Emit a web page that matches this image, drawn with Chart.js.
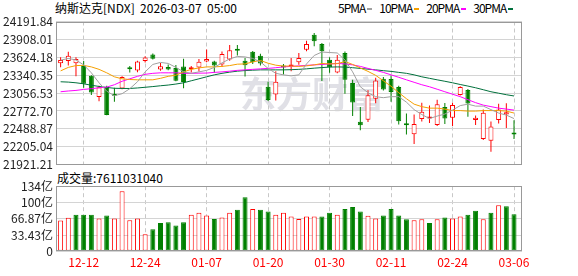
<!DOCTYPE html>
<html>
<head>
<meta charset="utf-8">
<script src="https://cdn.jsdelivr.net/npm/chart.js@4.4.1/dist/chart.umd.min.js"></script>
<style>
  body { margin: 0; width: 578px; height: 276px; background: #fff; position: relative; overflow: hidden;
         font-family: "Noto Sans CJK SC", "Noto Sans", sans-serif; font-size: 12px; color: #000; }
  .txt { position: absolute; white-space: nowrap; line-height: 12px; }
  #legend { left: 338px; top: 2px; letter-spacing: -1px; }
  #legend i { display: inline-block; width: 5px; height: 2px; vertical-align: 3px; margin: 0 7px 0 2px; }
  canvas { position: absolute; left: 0; }
</style>
</head>
<body>
<div class="txt" style="left:55px;top:2px">纳斯达克[NDX]&nbsp;&nbsp;2026-03-07&nbsp;&nbsp;05:00</div>
<div class="txt" id="legend">5PMA<i style="background:#a0a0a0"></i>10PMA<i style="background:#f5a000"></i>20PMA<i style="background:#ff00ff"></i>30PMA<i style="background:#00703c"></i></div>
<div class="txt" style="left:57px;top:172px">成交量:7611031040</div>
<canvas id="kline" width="578" height="176" style="top:0"></canvas>
<canvas id="vol" width="578" height="100" style="top:176px"></canvas>
<script>
const dates = ['12-09','12-10','12-11','12-12','12-15','12-16','12-17','12-18','12-19','12-22',
  '12-23','12-24','12-26','12-29','12-30','12-31','01-02','01-05','01-06','01-07',
  '01-08','01-09','01-12','01-13','01-14','01-15','01-16','01-20','01-21','01-22',
  '01-23','01-26','01-27','01-28','01-29','01-30','02-02','02-03','02-04','02-05',
  '02-06','02-09','02-10','02-11','02-12','02-13','02-17','02-18','02-19','02-20',
  '02-23','02-24','02-25','02-26','02-27','03-02','03-03','03-04','03-05','03-06'];

const open = [23530,23567,23530,23488,23330,22995,23152,23031,23130,23445,
  23414,23567,23669,23430,23472,23456,23480,23436,23464,23559,
  23559,23511,23590,23745,23571,23713,23650,23157,23036,23472,
  23477,23546,23745,23981,23834,23587,23385,23693,23217,22601,
  22634,22965,23283,23280,23154,22555,22404,22645,22653,22551,
  22837,22666,23028,23107,22629,22330,22299,22629,22716,22414];
const high = [23625,23713,23625,23567,23338,23173,23173,23141,23322,23488,
  23571,23641,23685,23535,23511,23504,23603,23488,23598,23748,
  23571,23716,23819,23819,23614,23724,23682,23236,23404,23519,
  23614,23693,23886,24008,23850,23625,23661,23716,23267,22837,
  23102,23299,23310,23335,23173,22732,22716,22905,22858,22952,
  22900,22905,23165,23121,22700,22795,22606,22889,22897,22626];
const low = [23467,23496,23322,23141,23026,22929,22705,22921,23118,23385,
  23389,23543,23590,23409,23417,23244,23133,23385,23401,23546,
  23378,23472,23571,23653,23319,23519,23496,22932,22941,23351,
  23404,23508,23719,23798,23247,23378,23373,23047,22692,22469,
  22598,22897,23099,22921,22559,22401,22251,22606,22582,22535,
  22566,22535,23018,22680,22551,22311,22125,22574,22503,22330];
const close = [23582,23650,23598,23204,23067,23149,22708,23015,23310,23436,
  23559,23622,23603,23483,23430,23252,23231,23445,23555,23598,
  23496,23677,23737,23730,23499,23546,23524,22948,23236,23461,
  23488,23614,23834,23877,23719,23467,23585,23267,22908,22546,
  23023,23255,23113,23075,22609,22546,22566,22759,22685,22881,
  22653,22866,23154,22892,22666,22744,22527,22798,22751,22401];

// 成交量, 亿
const volume = [63.2,69.0,75.3,75.3,75.3,67.6,73.4,67.6,123.6,63.8,
  67.6,34.8,45.1,58.0,59.9,52.8,59.9,75.3,79.2,73.4,
  66.3,69.6,79.2,85.6,110.8,86.9,85.6,81.8,75.3,79.2,
  71.5,66.3,71.5,71.5,71.5,79.2,75.3,86.9,90.8,81.8,
  72.8,67.6,73.4,86.9,73.4,65.7,63.8,65.7,58.0,65.7,
  69.6,67.6,71.5,75.3,83.1,65.7,79.2,94.7,92.7,76.11];

const ma5 = [23578,23606,23582,23504,23378,23220,23086,23015,23047,23126,
  23236,23393,23511,23543,23527,23464,23393,23370,23393,23417,
  23464,23535,23598,23637,23630,23606,23551,23448,23370,23346,
  23330,23346,23519,23653,23708,23700,23693,23582,23393,23157,
  23063,23000,22984,23000,23000,22913,22795,22716,22653,22692,
  22724,22787,22858,22881,22850,22850,22795,22740,22708,22653];
const ma10 = [23409,23464,23493,23496,23472,23433,23378,23315,23283,23272,
  23267,23267,23267,23291,23322,23341,23393,23433,23456,23472,
  23472,23480,23493,23515,23519,23551,23574,23530,23499,23485,
  23485,23480,23488,23504,23526,23519,23524,23556,23511,23456,
  23401,23338,23252,23165,23063,22968,22881,22842,22818,22818,
  22803,22779,22779,22771,22771,22779,22779,22779,22771,22740];
const ma20 = [23078,23090,23099,23115,23126,23141,23152,23189,23244,23283,
  23322,23354,23370,23378,23378,23378,23370,23370,23373,23374,
  23385,23393,23404,23417,23425,23433,23441,23448,23459,23472,
  23480,23488,23496,23504,23511,23519,23527,23519,23504,23480,
  23448,23417,23385,23346,23307,23267,23228,23189,23157,23118,
  23078,23039,23000,22952,22905,22866,22842,22818,22803,22787];
const ma30 = [23236,23231,23220,23204,23181,23162,23146,23133,23130,23130,
  23138,23149,23160,23173,23184,23200,23220,23252,23283,23315,
  23346,23370,23389,23404,23414,23420,23425,23425,23425,23425,
  23428,23433,23441,23452,23461,23469,23472,23469,23459,23448,
  23436,23425,23412,23401,23385,23370,23346,23315,23291,23267,
  23244,23220,23193,23168,23141,23110,23078,23055,23031,23011];

const priceTicks = [21921.21,22205.04,22488.87,22772.70,23056.53,23340.35,23624.18,23908.01,24191.84];
const volTicks = [0, 33.435, 66.87, 100.305, 133.74];
const volLabels = ['0', '33.43亿', '66.87亿', '100亿', '134亿'];
const dateTicks = ['12-12','12-24','01-07','01-20','01-30','02-11','02-24','03-06'];

const RED = '#ff0000';
const GREEN = '#008000';
const FONT = { family: '"Noto Sans CJK SC", "Noto Sans", sans-serif', size: 12 };

const idx = dates.map((d, i) => i);
const up = idx.map(i => close[i] >= open[i]);
const volUp = idx.map(i => i === 0 ? close[i] >= open[i] : close[i] >= close[i - 1]);

const frame = {
  id: 'frame',
  beforeDraw(chart, args, opts) {
    if (!opts.mark) return;
    const ctx = chart.ctx;
    ctx.save();
    ctx.fillStyle = '#e0e0e6';
    ctx.font = 'bold 36px "Noto Sans CJK SC"';
    ctx.textBaseline = 'alphabetic';
    ctx.fillText('东方财富', 240, 108);
    ctx.restore();
  },
  afterDraw(chart) {
    const { ctx, chartArea: a } = chart;
    ctx.save();
    ctx.strokeStyle = '#999';
    ctx.lineWidth = 1;
    ctx.strokeRect(Math.round(a.left) + 0.5, Math.round(a.top) + 0.5,
      Math.round(a.right - a.left) - 1, Math.round(a.bottom - a.top) - 1);
    ctx.restore();
  }
};

function xAxis(showLabels) {
  return {
    type: 'linear',
    min: -0.6,
    max: 60.04,
    offset: false,
    afterBuildTicks: scale => { scale.ticks = dateTicks.map(d => ({ value: dates.indexOf(d) })); },
    ticks: {
      display: showLabels,
      autoSkip: false,
      maxRotation: 0,
      color: RED,
      font: FONT,
      padding: 4,
      callback: v => dates[v]
    },
    grid: { color: '#c8c8c8', drawTicks: false, offset: false },
    border: { display: false, dash: [4, 3] }
  };
}

function maLine(label, values, color) {
  return {
    type: 'line',
    label: label,
    data: idx.map(i => ({ x: i, y: values[i] })),
    borderColor: color,
    borderWidth: 1,
    pointRadius: 0,
    tension: 0,
    order: 0
  };
}

new Chart(document.getElementById('kline'), {
  type: 'bar',
  data: {
    datasets: [
      maLine('5PMA', ma5, '#a0a0a0'),
      maLine('10PMA', ma10, '#f5a000'),
      maLine('20PMA', ma20, '#ff00ff'),
      maLine('30PMA', ma30, '#00703c'),
      {
        label: 'body',
        data: idx.map(i => ({ x: i, y: [open[i], close[i]] })),
        backgroundColor: idx.map(i => up[i] ? '#ffffff' : GREEN),
        borderColor: idx.map(i => up[i] ? RED : GREEN),
        borderWidth: 1,
        borderSkipped: false,
        barThickness: 5,
        minBarLength: 2,
        inflateAmount: 0,
        grouped: false,
        order: 1
      },
      {
        label: 'wick',
        data: idx.map(i => ({ x: i, y: [low[i], high[i]] })),
        backgroundColor: idx.map(i => up[i] ? RED : GREEN),
        barThickness: 1,
        inflateAmount: 0,
        grouped: false,
        order: 2
      }
    ]
  },
  options: {
    responsive: false,
    animation: false,
    devicePixelRatio: 1,
    events: [],
    layout: { padding: { left: 0, right: 56, top: 21.5, bottom: 11.3 } },
    plugins: { legend: { display: false }, tooltip: { enabled: false }, frame: { mark: true } },
    scales: {
      x: xAxis(false),
      y: {
        min: 21921.21,
        max: 24191.84,
        afterBuildTicks: scale => { scale.ticks = priceTicks.map(v => ({ value: v })); },
        afterFit: scale => { scale.width = 56; },
        ticks: { autoSkip: false, color: '#222', font: FONT, padding: 3, callback: v => v.toFixed(2) },
        grid: { color: '#d4d4d4', drawTicks: false },
        border: { display: false }
      }
    }
  },
  plugins: [frame]
});

new Chart(document.getElementById('vol'), {
  type: 'bar',
  data: {
    datasets: [{
      label: '成交量',
      data: idx.map(i => ({ x: i, y: volume[i] })),
      backgroundColor: idx.map(i => volUp[i] ? '#ffffff' : GREEN),
      borderColor: idx.map(i => volUp[i] ? RED : GREEN),
      borderWidth: 1,
      borderSkipped: false,
      barThickness: 5,
      inflateAmount: 0
    }]
  },
  options: {
    responsive: false,
    animation: false,
    devicePixelRatio: 1,
    events: [],
    layout: { padding: { left: 0, right: 56, top: 10, bottom: 2.3 } },
    plugins: { legend: { display: false }, tooltip: { enabled: false }, frame: { mark: false } },
    scales: {
      x: xAxis(true),
      y: {
        min: 0,
        max: 133.74,
        afterBuildTicks: scale => { scale.ticks = volTicks.map(v => ({ value: v })); },
        afterFit: scale => { scale.width = 56; },
        ticks: { autoSkip: false, color: '#222', font: FONT, padding: 3, callback: (v, i) => volLabels[i] },
        grid: { color: '#d4d4d4', drawTicks: false },
        border: { display: false }
      }
    }
  },
  plugins: [frame]
});
</script>
</body>
</html>
